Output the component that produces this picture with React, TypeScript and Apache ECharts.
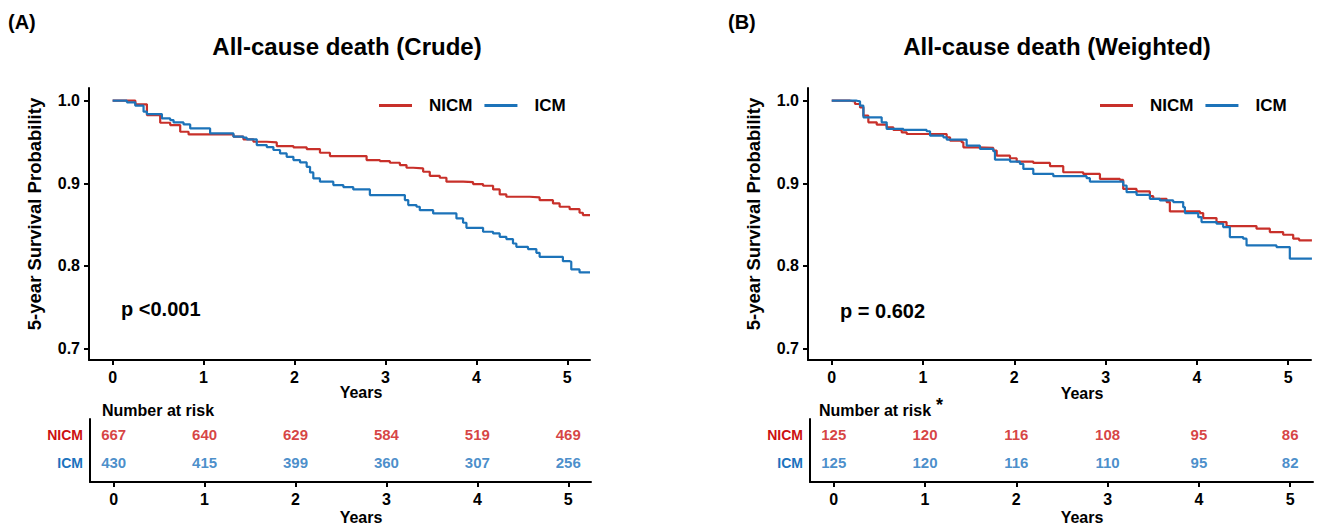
import React, { useEffect, useRef } from "react";
import * as echarts from "echarts";

// ---- data ----
const years = [0, 1, 2, 3, 4, 5];
const groups = ["NICM", "ICM"];

// Panel A (crude) Kaplan-Meier steps: [time, survival]
const crudeNICM: number[][] = [
  [0, 1.0], [0.157, 1.0], [0.25, 0.9956], [0.377, 0.9826], [0.523, 0.9733], [0.633, 0.9705],
  [0.743, 0.9624], [0.835, 0.9592], [1.329, 0.9564], [1.438, 0.9532], [1.548, 0.9503],
  [1.695, 0.9495], [1.805, 0.9451], [1.988, 0.9435], [2.134, 0.9414], [2.28, 0.937],
  [2.39, 0.933], [2.793, 0.9281], [2.939, 0.9269], [3.049, 0.9249], [3.159, 0.922],
  [3.232, 0.9188], [3.305, 0.918], [3.415, 0.914], [3.488, 0.9091], [3.598, 0.9067],
  [3.671, 0.9019], [3.854, 0.9015], [3.964, 0.8991], [4.074, 0.897], [4.184, 0.8926],
  [4.257, 0.8865], [4.33, 0.8837], [4.586, 0.8829], [4.696, 0.8796], [4.843, 0.8756],
  [4.916, 0.8716], [5.026, 0.8687], [5.135, 0.8643], [5.172, 0.8615], [5.25, 0.8615],
];
const crudeICM: number[][] = [
  [0, 1.0], [0.157, 0.998], [0.249, 0.994], [0.34, 0.9867], [0.377, 0.9838], [0.542, 0.9786],
  [0.633, 0.9766], [0.67, 0.9737], [0.78, 0.9713], [0.853, 0.9665], [1.072, 0.9604],
  [1.329, 0.9564], [1.438, 0.9552], [1.475, 0.9532], [1.585, 0.9463], [1.695, 0.9439],
  [1.768, 0.9403], [1.841, 0.9362], [1.914, 0.9321], [1.988, 0.9281], [2.061, 0.9253],
  [2.134, 0.92], [2.171, 0.9132], [2.207, 0.9059], [2.28, 0.9019], [2.427, 0.8978],
  [2.537, 0.8954], [2.646, 0.8926], [2.829, 0.8857], [3.214, 0.8797], [3.251, 0.8736],
  [3.342, 0.8716], [3.378, 0.8675], [3.525, 0.8635], [3.781, 0.8575], [3.854, 0.8522],
  [3.891, 0.8461], [4.074, 0.8413], [4.184, 0.8393], [4.257, 0.8352], [4.33, 0.8324],
  [4.403, 0.8271], [4.44, 0.8231], [4.568, 0.8203], [4.66, 0.8158], [4.696, 0.811],
  [4.952, 0.8057], [5.026, 0.8049], [5.044, 0.7957], [5.135, 0.792], [5.25, 0.792],
];

// Panel B (weighted)
const weightedNICM: number[][] = [
  [0, 1.0], [0.201, 0.9992], [0.255, 0.996], [0.31, 0.9919], [0.347, 0.9819], [0.401, 0.9738],
  [0.493, 0.971], [0.602, 0.9678], [0.675, 0.9646], [0.766, 0.9617], [0.821, 0.9597],
  [1.259, 0.9557], [1.296, 0.9517], [1.423, 0.9497], [1.442, 0.9436], [1.588, 0.9428],
  [1.77, 0.9396], [1.807, 0.9335], [1.953, 0.9303], [2.026, 0.9263], [2.208, 0.9247],
  [2.391, 0.9207], [2.536, 0.9134], [2.755, 0.9114], [2.938, 0.9053], [3.157, 0.9041],
  [3.193, 0.8932], [3.339, 0.8901], [3.485, 0.8844], [3.522, 0.8812], [3.668, 0.8772],
  [3.704, 0.8659], [4.033, 0.8639], [4.069, 0.8579], [4.215, 0.853], [4.325, 0.8482],
  [4.653, 0.845], [4.799, 0.8409], [4.945, 0.8377], [5.055, 0.8329], [5.12, 0.8309], [5.26, 0.8309],
];
const weightedICM: number[][] = [
  [0, 1.0], [0.274, 0.9992], [0.31, 0.994], [0.347, 0.9799], [0.547, 0.9738], [0.602, 0.9658],
  [0.785, 0.9646], [1.04, 0.963], [1.077, 0.9577], [1.223, 0.9557], [1.259, 0.9529],
  [1.478, 0.9456], [1.624, 0.9416], [1.77, 0.9388], [1.788, 0.9287], [1.953, 0.9263],
  [2.062, 0.9235], [2.099, 0.9174], [2.208, 0.9114], [2.427, 0.9086], [2.792, 0.9062],
  [2.828, 0.9021], [3.193, 0.8973], [3.23, 0.8892], [3.339, 0.886], [3.485, 0.8812],
  [3.595, 0.8792], [3.741, 0.8772], [3.85, 0.8711], [3.869, 0.8639], [4.015, 0.859],
  [4.051, 0.853], [4.215, 0.851], [4.288, 0.847], [4.361, 0.8349], [4.507, 0.8329],
  [4.544, 0.8248], [4.872, 0.8228], [5.018, 0.8087], [5.26, 0.8087],
];

// Number at risk
const riskCrudeNICM = [667, 640, 629, 584, 519, 469];
const riskCrudeICM = [430, 415, 399, 360, 307, 256];
const riskWeightedNICM = [125, 120, 116, 108, 95, 86];
const riskWeightedICM = [125, 120, 116, 110, 95, 82];

const yTicks = [0.7, 0.8, 0.9, 1.0];

const RED = "#c8302a";
const BLUE = "#1c73b9";
const RED_TXT = "#cc1111";
const BLUE_TXT = "#1a72bd";
const FONT = "'Liberation Sans', Arial, sans-serif";

export default function App() {
  const ref = useRef<HTMLDivElement>(null);
  useEffect(() => {
    if (!ref.current) return;
    const chart = echarts.init(ref.current, null, { renderer: "svg" });
    const X_MIN = -0.26;
    const X_MAX = 5.25;
    const grids = [
      { left: 89, top: 88, width: 501, height: 272 },
      { left: 808, top: 88, width: 503, height: 272 },
      { left: 90, top: 419, width: 501, height: 63 },
      { left: 810, top: 419, width: 503, height: 63 },
    ];
    const axisLine = { show: true, onZero: false, lineStyle: { color: "#000", width: 2 } };
    const tickStyle = { color: "#000", width: 2 };
    const labRich = { t: { color: "#000", fontWeight: "bold", fontSize: 16, fontFamily: FONT } };
    const xAxes = [0, 1, 2, 3].map((i) => ({
      type: "value", gridIndex: i, min: X_MIN, max: X_MAX,
      axisLine,
      axisTick: { show: true, length: 5, lineStyle: tickStyle, customValues: years },
      axisLabel: {
        show: true, margin: 9, customValues: years,
        formatter: (v: number) => `{t|${Math.round(v)}}`, rich: labRich,
      },
      splitLine: { show: false },
    }));
    const plotY = (i: number) => ({
      type: "value", gridIndex: i, min: 0.686, max: 1.0154,
      axisLine,
      axisTick: { show: true, length: 5, lineStyle: tickStyle, customValues: yTicks },
      axisLabel: {
        margin: 9, customValues: yTicks,
        formatter: (v: number) => `{t|${v.toFixed(1)}}`, rich: labRich,
      },
      splitLine: { show: false },
    });
    const tableY = (i: number) => ({
      type: "value", gridIndex: i, min: 0.32, max: 2.57,
      axisLine, axisTick: { show: false },
      axisLabel: {
        margin: 7, customValues: [1, 2],
        formatter: (v: number) => (Math.round(v) === 2 ? `{n|${groups[0]}}` : `{i|${groups[1]}}`),
        rich: {
          n: { color: RED_TXT, fontWeight: "bold", fontSize: 14, fontFamily: FONT },
          i: { color: BLUE_TXT, fontWeight: "bold", fontSize: 14, fontFamily: FONT },
        },
      },
      splitLine: { show: false },
    });
    const km = (name: string, data: number[][], color: string, i: number) => ({
      name, type: "line", step: "end", xAxisIndex: i, yAxisIndex: i, data,
      showSymbol: false, symbol: "none", lineStyle: { color, width: 2.2 }, itemStyle: { color },
    });
    const risk = (vals: number[], row: number, color: string, i: number) => ({
      type: "scatter", xAxisIndex: i, yAxisIndex: i, symbolSize: 0,
      data: vals.map((v, k) => [years[k], row, v]),
      label: { show: true, position: "inside", formatter: (p: any) => String(p.value[2]), color, fontWeight: "bold", fontSize: 15, fontFamily: FONT },
      silent: true,
    });
    const legendBase = {
      top: 92, itemWidth: 33, itemHeight: 3, itemGap: 12, icon: "rect",
      textStyle: { color: "#000", fontWeight: "bold", fontSize: 17, fontFamily: FONT, padding: [0, 0, 0, 12] },
      data: groups,
    };
    const txt = (x: number, y: number, text: string, size: number, extra: any = {}) => ({
      type: "text", x, y,
      style: { text, fill: "#000", font: `bold ${size}px ${FONT}`, textAlign: "left", textVerticalAlign: "middle", ...extra },
    });
    const yName = (x: number) => ({
      type: "text", x, y: 214, rotation: Math.PI / 2,
      style: { text: "5-year Survival Probability", fill: "#000", font: `bold 18.5px ${FONT}`, textAlign: "center", textVerticalAlign: "middle" },
    });
    chart.setOption({
      animation: false,
      backgroundColor: "#fff",
      grid: grids,
      xAxis: xAxes,
      yAxis: [plotY(0), plotY(1), tableY(2), tableY(3)],
      legend: [
        { ...legendBase, left: 374 },
        { ...legendBase, left: 1095 },
      ],
      series: [
        km("NICM", crudeNICM, RED, 0),
        km("ICM", crudeICM, BLUE, 0),
        km("NICM", weightedNICM, RED, 1),
        km("ICM", weightedICM, BLUE, 1),
        risk(riskCrudeNICM, 2, RED_TXT, 2),
        risk(riskCrudeICM, 1, BLUE_TXT, 2),
        risk(riskWeightedNICM, 2, RED_TXT, 3),
        risk(riskWeightedICM, 1, BLUE_TXT, 3),
      ],
      graphic: [
        txt(8, 22, "(A)", 20),
        txt(728, 22, "(B)", 20),
        txt(347, 46, "All-cause death (Crude)", 24, { textAlign: "center" }),
        txt(1057, 46, "All-cause death (Weighted)", 24, { textAlign: "center" }),
        yName(34),
        yName(753),
        txt(121, 309, "p <0.001", 20),
        txt(840, 311, "p = 0.602", 20),
        txt(361, 392, "Years", 16, { textAlign: "center" }),
        txt(1082, 393, "Years", 16, { textAlign: "center" }),
        txt(361, 517, "Years", 16, { textAlign: "center" }),
        txt(1082, 517, "Years", 16, { textAlign: "center" }),
        txt(102, 410, "Number at risk", 16),
        txt(819, 410, "Number at risk", 16),
        txt(936, 405, "*", 18),
      ],
    });
    return () => chart.dispose();
  }, []);
  return <div ref={ref} style={{ position: "fixed", left: 0, top: 0, width: 1329, height: 525 }} />;
}
